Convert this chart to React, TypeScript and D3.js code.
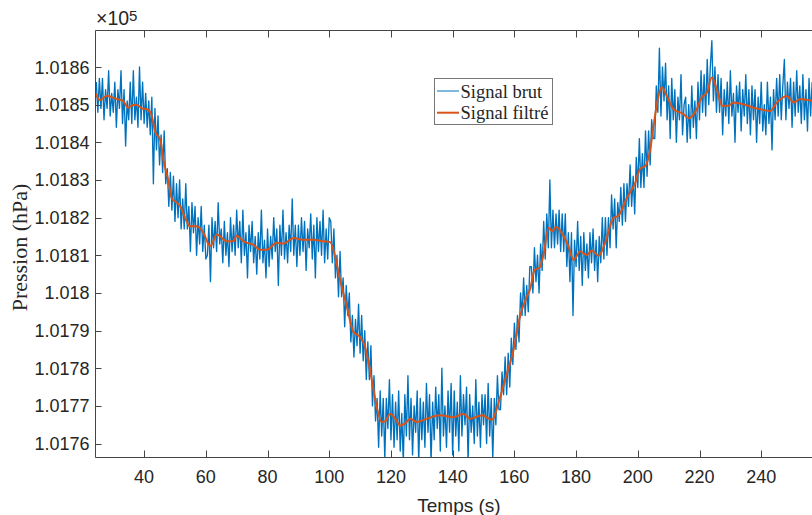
import React from 'react';
import * as d3 from 'd3';

// x ticks (s) and y ticks (value, shown ×10^5)
const xTicks = [40, 60, 80, 100, 120, 140, 160, 180, 200, 220, 240];
const yTicks = [101760, 101770, 101780, 101790, 101800, 101810, 101820, 101830, 101840, 101850, 101860];

// raw signal sampling
const rawStart = 24.5;
const rawStep = 0.5;
const rawSignal = [
  101856,101848,101857,101849,101857,101846,101854,101849,101859,101847,101853,
  101848,101856,101844,101854,101849,101859,101845,101854,101839,101851,
  101846,101856,101845,101859,101846,101852,101844,101860,101846,101856,101845,
  101853,101844,101851,101842,101852,101829,101849,101838,101847,101834,101842,101832,101843,101829,101833,101823,101832,101822,101831,101819,
  101829,101820,101830,101817,101825,101817,101829,101817,101823,101811,101824,101816,101823,101810,101820,101813,101823,101811,101818,101809,
  101810,101818,101803,101820,101812,101819,101811,101824,101813,101817,101808,101819,101810,101816,101807,101820,101811,101818,101810,101822,
  101812,101819,101808,101822,101810,101816,101804,101818,101811,101819,101808,101815,101805,101816,101809,101822,101808,101814,101804,101817,
  101807,101815,101809,101820,101811,101817,101802,101818,101810,101822,101809,101816,101808,101818,101811,101825,101810,101818,101807,101818,
  101810,101820,101811,101819,101806,101817,101812,101821,101809,101818,101804,101820,101811,101819,101810,101822,101808,101817,101809,101820,
  101819,101808,101817,101804,101810,101799,101811,101799,101804,101791,101802,101794,101800,101787,101794,101783,101793,101786,101797,101784,
  101794,101782,101790,101777,101787,101777,101786,101770,101778,101766,101772,101759,101774,101762,101772,101756,101772,101764,101777,101761,
  101773,101759,101771,101761,101774,101758,101768,101755,101773,101762,101778,101761,101772,101757,101770,101763,101774,101755,101772,101761,
  101771,101759,101776,101763,101773,101755,101771,101761,101775,101764,101773,101758,101780,101762,101770,101759,101774,101763,101776,101757,
  101774,101762,101771,101758,101778,101762,101773,101765,101775,101755,101773,101763,101770,101760,101777,101762,101771,101759,101773,101765,
  101773,101760,101776,101762,101772,101756,101772,101765,101778,101769,
  101769,101779,101773,101783,101773,101784,101775,101788,101781,101792,101785,101794,101787,101800,101794,101804,101794,101802,101795,101807,
  101807,101800,101812,101803,101810,101800,101813,101806,101819,101809,101821,101812,101830,101812,101822,101812,101821,101813,101822,101811,
  101821,101811,101821,101807,101816,101803,101816,101794,101814,101807,101819,101806,101815,101802,101816,101806,101813,101804,101816,101808,
  101817,101806,101814,101803,101815,101808,101820,101809,101820,101810,101820,101812,101826,101817,101825,101812,101824,101819,101828,101818,
  101829,101819,101829,101823,101834,101823,101831,101821,101836,101828,101841,101828,101837,101828,101843,101831,101843,101834,101846,101841,
  101841,101855,101848,101865,101847,101860,101851,101861,101846,101855,101841,101857,101846,101854,101840,101852,101846,101858,101842,101850,
  101852,101840,101850,101841,101855,101844,101851,101841,101856,101846,101859,101848,101858,101847,101862,101850,101860,101867,101851,101860,
  101848,101858,101848,101857,101842,101854,101847,101856,101845,101859,101847,101853,101840,101855,101848,101856,101843,101854,101847,101858,
  101845,101854,101842,101855,101846,101854,101840,101852,101845,101856,101843,101850,101842,101856,101845,101852,101838,101854,101846,101857,
  101847,101858,101846,101855,101862,101846,101856,101849,101857,101844,101856,101847,101859,101848,101855,101845,101858,101846,101854,101843,101857,101847,101856,
];

// filtered signal key points
const filtTime = [
  24.24, 25.7, 27.9, 29.5, 31.2, 33.2, 34.8, 36, 37.6, 39.3, 40.9, 42.5, 43.6, 45.2, 46.2, 47.8, 49, 50.6, 51.7, 53,
  54.9, 57.1, 59.2, 61.4, 63.6, 66.8, 68.9, 70, 72.2, 75.4, 77.6, 79.8, 83, 85.2, 88.4, 91.6, 94.9, 98.1, 100.3, 101.9,
  103.5, 105.7, 107.8, 110, 111.6, 113.8, 115.4, 117, 118.3, 119.7, 121.5, 123, 124.8, 126.2, 128.4, 131.6, 136, 140.2, 143.4, 145.7,
  149.5, 152.7, 155.4, 157.6, 159.7, 161.9, 164, 165.1, 166.5, 168.2, 169.4, 171.1, 172.2, 173.5, 175.4, 177.5, 179.2, 181.3, 183.5, 185.1,
  187.3, 189.4, 192.1, 193.7, 196.5, 199.2, 200.8, 202.4, 204, 205.1, 206.7, 207.8, 209.4, 211.6, 214.8, 216.4, 219.1, 220.7, 222.4, 224,
  225.6, 227.3, 229.4, 231, 234.3, 237.5, 239.7, 242.9, 245.1, 248.3, 250.5, 252.6, 256.5,
];
const filtValue = [
  101853, 101851.2, 101852.4, 101852, 101851.5, 101851, 101849.2, 101849.8, 101850, 101849, 101848.8, 101847, 101842.7, 101840.8, 101835.5, 101830, 101825, 101824, 101823, 101820.5,
  101817.7, 101817.7, 101816, 101812.4, 101815.5, 101813.7, 101813.7, 101815.2, 101813.7, 101812.8, 101811.5, 101811.5, 101813.3, 101813.1, 101814.6, 101814.1, 101814.1, 101813.7, 101813.5, 101809.7,
  101803.5, 101796.4, 101789.7, 101788.3, 101785.7, 101776.8, 101769.7, 101765.7, 101766, 101767.9, 101766.5, 101764.8, 101765.5, 101766.6, 101765.7, 101766.6, 101767.5, 101767, 101767.9, 101766.6,
  101767.5, 101766.3, 101772.4, 101778.6, 101784.8, 101794, 101799, 101801, 101806, 101806.8, 101810, 101817.3, 101816.4, 101817.5, 101815.9, 101812.4, 101808.8, 101811, 101810.1, 101811.3,
  101809.9, 101813.3, 101819.9, 101820.5, 101825.3, 101829.3, 101833, 101833.7, 101838, 101844.3, 101852.3, 101854.6, 101852.3, 101848.8, 101847.5, 101846.4, 101848.8, 101851.9, 101853.2, 101857.2,
  101854.1, 101849.7, 101849.7, 101850.6, 101850.1, 101849.2, 101848.8, 101848.3, 101850.6, 101852.3, 101850.6, 101851.5, 101851,
];

const legendLabels = ['Signal brut', 'Signal filtré'];
const xLabel = 'Temps (s)';
const yLabel = 'Pression (hPa)';

const SANS = '"Liberation Sans", Arial, Helvetica, sans-serif';
const SERIF = '"Liberation Serif", "Times New Roman", serif';
const TXT = '#262626';
const AX = '#454545';
const BLUE = '#0072BD';
const ORANGE = '#D95319';

export default function App() {
  const L = 95.5, R = 822, T = 30.5, B = 457.5;
  const x = d3.scaleLinear().domain([24.24, 259.7]).range([L, R]);
  const y = d3.scaleLinear().domain([101756.3, 101869.7]).range([B, T]);

  const rawLine = d3
    .line<number>()
    .x((_, i) => x(rawStart + i * rawStep))
    .y((d) => y(d));

  const n = Math.min(filtTime.length, filtValue.length);
  const filtPts: [number, number][] = [];
  for (let i = 0; i < n; i++) filtPts.push([filtTime[i], filtValue[i]]);
  const filtLine = d3
    .line<[number, number]>()
    .x((d) => x(d[0]))
    .y((d) => y(d[1]))
    .curve(d3.curveMonotoneX);

  const fmtY = (v: number) => String(+(v / 1e5).toFixed(4));

  return (
    <svg
      width={812}
      height={515}
      style={{ position: 'absolute', left: 0, top: 0, background: '#fff' }}
    >
      <rect x={0} y={0} width={812} height={515} fill="#fff" />
      <defs>
        <clipPath id="plotclip">
          <rect x={L} y={T} width={R - L} height={B - T} />
        </clipPath>
      </defs>

      <g clipPath="url(#plotclip)">
        <path d={rawLine(rawSignal) || ''} fill="none" stroke={BLUE} strokeWidth={1.35} strokeLinejoin="round" />
        <path d={filtLine(filtPts) || ''} fill="none" stroke={ORANGE} strokeWidth={2} strokeLinejoin="round" />
      </g>

      {/* axes box */}
      <line x1={L} x2={R} y1={B} y2={B} stroke={AX} strokeWidth={1} />
      <line x1={L} x2={R} y1={T} y2={T} stroke={AX} strokeWidth={1} />
      <line x1={L} x2={L} y1={T} y2={B} stroke={AX} strokeWidth={1} />

      {/* x ticks */}
      {xTicks.map((t) => {
        const px = Math.round(x(t)) + 0.5;
        return (
          <g key={'xt' + t}>
            <line x1={px} x2={px} y1={B} y2={B - 7} stroke={AX} strokeWidth={1} />
            <line x1={px} x2={px} y1={T} y2={T + 7} stroke={AX} strokeWidth={1} />
            <text x={x(t)} y={483} textAnchor="middle" fontFamily={SANS} fontSize={18} fill={TXT}>
              {t}
            </text>
          </g>
        );
      })}

      {/* y ticks */}
      {yTicks.map((v) => {
        const py = Math.round(y(v)) + 0.5;
        return (
          <g key={'yt' + v}>
            <line x1={L} x2={L + 6} y1={py} y2={py} stroke={AX} strokeWidth={1} />
            <text x={89.5} y={y(v)} dy="0.36em" textAnchor="end" fontFamily={SANS} fontSize={18} fill={TXT}>
              {fmtY(v)}
            </text>
          </g>
        );
      })}

      {/* exponent */}
      <text x={96} y={25} fontFamily={SANS} fontSize={19.5} fill={TXT}>
        ×10
      </text>
      <text x={129} y={20.5} fontFamily={SANS} fontSize={15} fill={TXT}>
        5
      </text>

      {/* axis labels */}
      <text x={459} y={512} textAnchor="middle" fontFamily={SANS} fontSize={19} fill={TXT}>
        {xLabel}
      </text>
      <text
        transform="translate(26.5,247.5) rotate(-90)"
        textAnchor="middle"
        fontFamily={SERIF}
        fontSize={22}
        fill={TXT}
      >
        {yLabel}
      </text>

      {/* legend */}
      <rect x={434.5} y={78.5} width={118} height={46} fill="#fff" stroke="#777" strokeWidth={1} />
      <line x1={437} x2={459} y1={91} y2={91} stroke={BLUE} strokeWidth={1} />
      <text x={460.5} y={97.5} fontFamily={SERIF} fontSize={18.5} fill={TXT}>
        {legendLabels[0]}
      </text>
      <line x1={437} x2={459} y1={112.7} y2={112.7} stroke={ORANGE} strokeWidth={2} />
      <text x={460.5} y={119} fontFamily={SERIF} fontSize={18.5} fill={TXT}>
        {legendLabels[1]}
      </text>
    </svg>
  );
}
